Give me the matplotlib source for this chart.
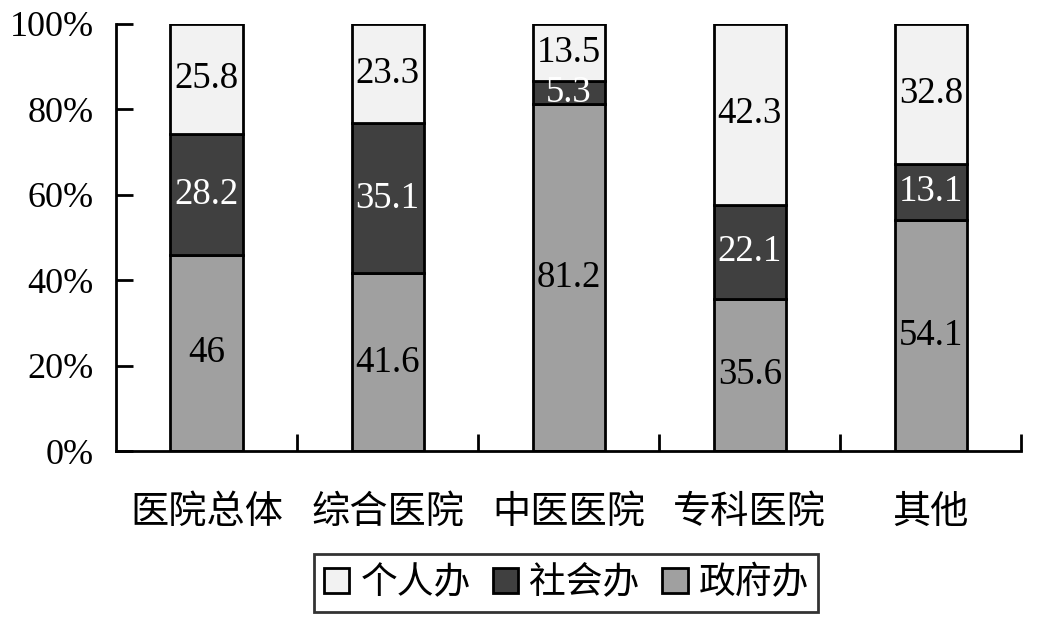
import matplotlib.pyplot as plt
from matplotlib.ticker import FixedLocator, PercentFormatter
import numpy as np

plt.rcParams['font.family'] = ['Liberation Serif', 'Noto Sans CJK SC']

categories = ['医院总体', '综合医院', '中医医院', '专科医院', '其他']
gov = [46, 41.6, 81.2, 35.6, 54.1]        # 政府办
social = [28.2, 35.1, 5.3, 22.1, 13.1]    # 社会办
private = [25.8, 23.3, 13.5, 42.3, 32.8]  # 个人办
gov_labels = ['46', '41.6', '81.2', '35.6', '54.1']
social_labels = ['28.2', '35.1', '5.3', '22.1', '13.1']
private_labels = ['25.8', '23.3', '13.5', '42.3', '32.8']

c_private = '#f2f2f2'
c_social = '#404040'
c_gov = '#a0a0a0'

fig = plt.figure(figsize=(10.37, 6.2), dpi=100)
ax = fig.add_axes([0.112, 0.272, 0.873, 0.69])

x = np.arange(len(categories))
w = 0.4
kw = dict(width=w, edgecolor='black', linewidth=2)
b1 = ax.bar(x, gov, color=c_gov, label='政府办', **kw)
b2 = ax.bar(x, social, bottom=gov, color=c_social, label='社会办', **kw)
bottom3 = np.array(gov) + np.array(social)
b3 = ax.bar(x, private, bottom=bottom3, color=c_private, label='个人办', **kw)

ax.bar_label(b1, labels=gov_labels, label_type='center', fontsize=26.5, color='black')
ax.bar_label(b2, labels=social_labels, label_type='center', fontsize=26.5, color='white')
ax.bar_label(b3, labels=private_labels, label_type='center', fontsize=26.5, color='black')

ax.set_xlim(-0.5, len(categories) - 0.5)
ax.set_ylim(0, 100)
ax.set_yticks([0, 20, 40, 60, 80, 100])
ax.yaxis.set_major_formatter(PercentFormatter(decimals=0))
ax.set_xticks(x)
ax.set_xticklabels(categories, fontsize=27.5, family=['Noto Sans CJK SC'])
ax.xaxis.set_minor_locator(FixedLocator(np.arange(0.5, len(categories), 1)))
ax.tick_params(axis='x', which='major', length=0, pad=30)
ax.tick_params(axis='x', which='minor', direction='in', length=12, width=2)
ax.tick_params(axis='y', direction='in', length=12, width=2, labelsize=26, pad=16)
for s in ['top', 'right']:
    ax.spines[s].set_visible(False)
for s in ['left', 'bottom']:
    ax.spines[s].set_linewidth(2)

handles = [b3, b2, b1]
leg = fig.legend(handles, ['个人办', '社会办', '政府办'], loc='center',
                 bbox_to_anchor=(0.546, 0.06), ncol=3, frameon=True, fancybox=False,
                 edgecolor='black', handlelength=0.7, handleheight=0.7,
                 handletextpad=0.3, columnspacing=0.6, borderpad=0.25,
                 prop={'family': 'Noto Sans CJK SC', 'size': 26.5})
leg.get_frame().set_linewidth(2)

fig.savefig('out.png', dpi=100)
